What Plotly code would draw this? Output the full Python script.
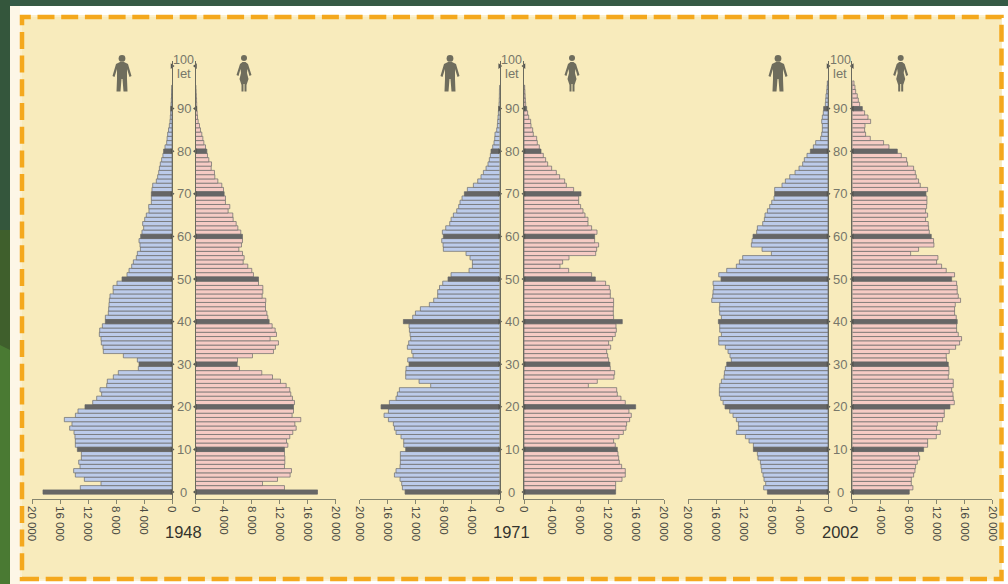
import plotly.graph_objects as go

W, H = 1008, 584
YEARS = ["1948", "1971", "2002"]

M_1948 = [18430,13100,10140,12520,13810,14050,13140,13330,12950,12950,13520,13810,13810,13860,14000,14620,14290,15380,13800,13430,12430,11330,10760,10050,10290,9330,9240,8380,7670,4810,4710,4950,6950,9810,9860,10100,10140,10380,10330,9950,9520,9520,9100,9050,9000,8950,8860,8400,8430,7860,7140,6430,6140,5760,5520,5100,4950,4520,4570,4710,4480,4290,4050,4190,3900,3670,3290,3330,2950,2950,2950,2860,2760,2240,2050,1900,1800,1670,1480,1300,1200,1000,760,700,620,500,380,290,240,200,190,140,100,70,50,30]
F_1948 = [17430,12710,9570,11710,13520,13710,12710,12760,12760,12710,12710,13190,13000,13470,13900,14380,14190,15040,13800,14000,14000,14140,13850,13610,13470,12950,12140,11000,9470,6280,5950,6000,8140,11140,11420,11850,10660,11570,11380,10950,10520,10330,10190,10000,10000,10040,9520,9620,9620,9000,9000,8280,8040,7470,6810,6950,6710,6190,6570,6710,6710,6470,6050,5810,5380,5330,4660,4900,4280,4280,4090,4000,3760,3190,2760,2710,2240,2290,1900,1710,1620,1430,1190,1050,900,710,570,380,290,240,190,170,150,120,90,60]
M_1971 = [13520,13900,14000,14240,15040,14810,14240,14190,14190,14190,13430,13710,13710,14100,14810,15040,15190,15900,16520,15900,16950,15760,14810,14620,14330,9860,11520,13430,13430,13380,12950,13140,12380,12570,13190,13000,12710,12800,12900,12950,13760,12430,12040,11330,10050,9430,8860,8860,8600,8140,7380,6950,4380,3900,3900,4240,4810,8050,8090,8280,8050,8190,7710,7140,6950,6620,6140,5860,5670,5380,5050,4620,3760,3140,2670,2330,1950,1670,1480,1330,1240,1000,810,710,670,430,330,290,240,190,140,100,70,50,40,30]
F_1971 = [13090,13090,13090,14000,14470,14470,13950,13610,13520,13420,13330,13040,12800,13570,14190,14570,14660,15090,15330,14990,15950,14470,13850,13330,13240,9190,10470,12850,12950,12330,12280,12090,11950,11810,12380,12090,12660,13040,13190,13140,14040,12800,12760,12760,12800,12800,12330,12330,12190,11660,10190,9660,6380,5140,5520,6430,10240,10380,10660,10090,10090,10430,9660,9140,9140,8710,8430,8090,7810,7810,8140,7090,6050,5810,5090,4620,3950,3380,3090,2760,2430,2190,1900,1810,1330,1240,1000,950,670,520,380,240,200,160,130,100]
M_2002 = [8660,9190,8900,9140,9280,9470,9570,9660,10000,10090,10660,10660,11280,11800,13090,12760,12800,13090,13570,14040,14710,14990,15330,15520,15520,15470,15230,14850,14800,14660,14470,13810,14000,14280,14660,15610,15610,15230,15470,15470,15660,15230,15470,15520,15470,16610,16470,16420,16330,16420,15280,15610,14470,13090,12660,12190,8090,9420,10950,10850,10710,10190,10090,9330,9090,9000,8660,8330,8040,7710,7620,7620,6570,6090,5470,4710,4140,3620,3380,3000,2520,2090,1760,1050,900,810,810,900,810,670,620,380,330,290,190,140,100]
F_2002 = [8140,8660,8430,8430,8760,8950,9040,9280,9620,9470,10190,10760,10760,12000,12570,12040,12140,12900,13140,13140,13950,14570,14420,14380,14190,14420,14420,13710,13800,13800,13710,13470,13420,13850,14760,15330,15610,15140,14900,14900,14990,14850,14610,14610,14710,15470,15140,14990,14990,14900,14190,14610,13420,12760,12040,12230,8330,9470,11660,11610,11280,11000,10900,10850,10470,10760,10470,10620,10660,10660,10520,10760,9710,9470,9140,9000,8760,7900,7760,7000,6430,5240,4470,2570,1900,1760,1810,2620,2240,1760,1430,1050,860,710,480,380,240]

SERIES = [(M_1948, F_1948), (M_1971, F_1971), (M_2002, F_2002)]
AGE_TICKS = [0, 10, 20, 30, 40, 50, 60, 70, 80, 90, 100]
X_TICKS = [0, 4000, 8000, 12000, 16000, 20000]
X_LABELS = ["0", "4 000", "8 000", "12 000", "16 000", "20 000"]

ZEROS = [(172.0, 195.5), (499.7, 524.0), (828.0, 852.3)]
SPAN = 140.0
TOP, BOTTOM = 60.7, 498.7
YRANGE = [-1.57, 101.25]
ICONS = [(122, 244), (450, 572), (778, 900.7)]

M_FILL, F_FILL = "#bccbea", "#f6cbc4"
DARK = "#666666"
EDGE = "#6a6a6a"
AXIS = "#85856f"
TXT = "#77776a"
ORANGE = "#f4a81d"
CREAM = "#f8ebbc"

def px(x): return x / W
def py(y): return 1 - y / H

def poly(points, ox=0.0, oy=0.0):
    parts = [f"{'M' if i == 0 else 'L'}{px(ox + a):.5f},{py(oy + b):.5f}" for i, (a, b) in enumerate(points)]
    return " ".join(parts) + " Z"

MAN = [(-2,7),(2,7),(6,9),(9.5,21),(7.5,22),(5,14),(5,24),(5.5,36.5),(1.5,36.5),(.5,24),(-.5,24),(-1.5,36.5),(-5.5,36.5),(-5,24),(-5,14),(-7.5,22),(-9.5,21),(-6,9)]
WOMAN = [(-1.5,7),(1.5,7),(4,9),(7.5,20),(5.5,21),(3.5,14),(3,18),(4.5,24),(2.5,30),(2.5,36.5),(.5,36.5),(.5,29),(-.5,29),(-.5,36.5),(-2.5,36.5),(-2.5,30),(-4.5,24),(-3,18),(-3.5,14),(-5.5,21),(-7.5,20),(-4,9)]

fig = go.Figure()
shapes, annotations = [], []

def paper_rect(x0, y0, x1, y1, color, **kw):
    return dict(type="rect", xref="paper", yref="paper", x0=px(x0), x1=px(x1), y0=py(y1), y1=py(y0),
                fillcolor=color, line=dict(width=0), layer="below", **kw)

shapes.append(paper_rect(0, 0, W, H, "#ffffff"))
shapes.append(paper_rect(0, 0, W, 6, "#355a45"))
shapes.append(paper_rect(0, 0, 10, H, "#3f5f2c"))
shapes.append(paper_rect(0, 0, 10, 230, "#34563c"))
shapes.append(dict(type="path", xref="paper", yref="paper", layer="below", fillcolor="#4a7a33", line=dict(width=0),
                   path=poly([(0, 345), (10, 350), (10, 584), (0, 584)])))
shapes.append(paper_rect(10, 6, 20, H, "#fdf6e6"))
shapes.append(paper_rect(20, 15, 1002, 581, "#fbf0cf"))
shapes.append(paper_rect(22, 17, 1001.5, 579, CREAM))
shapes.append(dict(type="rect", xref="paper", yref="paper", x0=px(22), x1=px(1001.5), y0=py(579), y1=py(17),
                   line=dict(color=ORANGE, width=4.5, dash="17px,6.7px"), fillcolor="rgba(0,0,0,0)"))

ax_idx = 0
for p, ((mz, fz), (males, females), year) in enumerate(zip(ZEROS, SERIES, YEARS)):
    for side, zero, values in (("m", mz, males), ("f", fz, females)):
        ax_idx += 1
        xn = f"x{ax_idx}"
        yn = f"y{ax_idx}"
        fill = M_FILL if side == "m" else F_FILL
        plain = [a for a in range(len(values)) if a % 10]
        decade = [a for a in range(len(values)) if a % 10 == 0]
        fig.add_trace(go.Bar(
            x=[values[a] for a in plain], y=plain, orientation="h", width=1.0, xaxis=xn, yaxis=yn,
            marker=dict(color=fill, line=dict(color=EDGE, width=0.7)),
            showlegend=False, hoverinfo="skip"))
        fig.add_trace(go.Bar(
            x=[values[a] for a in decade], y=decade, orientation="h", width=1.0, xaxis=xn, yaxis=yn,
            marker=dict(color=DARK, line=dict(color=DARK, width=0.7)),
            showlegend=False, hoverinfo="skip"))
        fig.add_trace(go.Scatter(
            x=[0] * len(AGE_TICKS), y=AGE_TICKS, mode="markers", xaxis=xn, yaxis=yn,
            marker=dict(symbol="triangle-right" if side == "m" else "triangle-left", size=5, color="#555550"),
            cliponaxis=False, showlegend=False, hoverinfo="skip"))
        if side == "m":
            dom = [px(zero - SPAN), px(zero)]
            rng = [20000, 0]
        else:
            dom = [px(zero), px(zero + SPAN)]
            rng = [0, 20000]
        fig.layout[f"xaxis{ax_idx}"] = dict(
            domain=dom, range=rng, anchor=yn, tickvals=X_TICKS, ticktext=X_LABELS, tickangle=90,
            ticks="outside", ticklen=4, tickwidth=1, tickcolor=AXIS, showline=True, linecolor=AXIS, linewidth=1,
            showgrid=False, zeroline=False, fixedrange=True, automargin=False,
            tickfont=dict(family="Liberation Sans", size=11.5, color="#4a4a42"))
        fig.layout[f"yaxis{ax_idx}"] = dict(
            domain=[py(BOTTOM), py(TOP)], range=YRANGE, anchor=xn, side="right" if side == "m" else "left",
            showticklabels=False, ticks="", showgrid=False, zeroline=False, showline=True, automargin=False,
            linecolor="#6a6a5e", linewidth=1, fixedrange=True)
    centre = (mz + fz) / 2
    for a in AGE_TICKS:
        annotations.append(dict(
            xref="paper", yref=f"y{ax_idx}", x=px(centre), y=a, showarrow=False, xanchor="center", yanchor="middle",
            text=str(a), yshift=6 if a == 100 else 0,
            font=dict(family="Liberation Sans", size=13 if a < 100 else 12.5, color=TXT)))
    annotations.append(dict(
        xref="paper", yref=f"y{ax_idx}", x=px(centre), y=100, showarrow=False, xanchor="center", yanchor="middle",
        text="let", yshift=-7, font=dict(family="Liberation Sans", size=13, color=TXT)))
    annotations.append(dict(xref="paper", yref="paper", x=px(centre), y=py(531.5), text=year, showarrow=False,
                            xanchor="center", yanchor="middle",
                            font=dict(family="Liberation Sans", size=16.5, color="#33332d")))
    man_x, woman_x = ICONS[p]
    shapes.append(dict(type="circle", xref="paper", yref="paper", x0=px(man_x - 3.4), x1=px(man_x + 3.4),
                       y0=py(61.8), y1=py(55), fillcolor="#6f6d5d", line=dict(width=0)))
    shapes.append(dict(type="path", xref="paper", yref="paper", path=poly(MAN, man_x, 55), fillcolor="#6f6d5d",
                       line=dict(width=0)))
    shapes.append(dict(type="circle", xref="paper", yref="paper", x0=px(woman_x - 3), x1=px(woman_x + 3),
                       y0=py(61), y1=py(55), fillcolor="#6f6d5d", line=dict(width=0)))
    shapes.append(dict(type="path", xref="paper", yref="paper", path=poly(WOMAN, woman_x, 55), fillcolor="#6f6d5d",
                       line=dict(width=0)))

fig.update_layout(
    width=W, height=H, margin=dict(l=0, r=0, t=0, b=0, autoexpand=False), autosize=False, barmode="overlay",
    paper_bgcolor="rgba(0,0,0,0)", plot_bgcolor="rgba(0,0,0,0)",
    shapes=shapes, annotations=annotations, showlegend=False)

fig.write_html("out.html", post_script="document.body.style.margin='0';document.body.style.overflow='hidden';",
               config={"displayModeBar": False})
